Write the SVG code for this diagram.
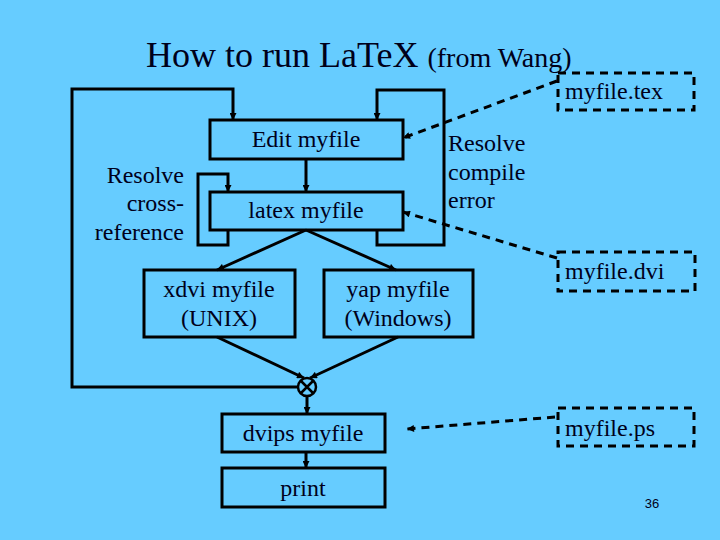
<svg xmlns="http://www.w3.org/2000/svg" width="720" height="540" viewBox="0 0 720 540">
<defs>
<marker id="ah" viewBox="0 0 10 10" refX="10" refY="5" markerWidth="8" markerHeight="7" markerUnits="userSpaceOnUse" orient="auto">
<path d="M0,0 L10,5 L0,10 z" fill="#000"/>
</marker>
</defs>
<style>
.box{fill:none;stroke:#000;stroke-width:3}
.dbox{fill:none;stroke:#000;stroke-width:3;stroke-dasharray:8,6}
.t{font-family:"Liberation Serif","Times New Roman",serif;font-size:24px;fill:#00001a}
.c{text-anchor:middle}
.r{text-anchor:end}
.ln{fill:none;stroke:#000;stroke-width:3}
.arr{fill:none;stroke:#000;stroke-width:3;marker-end:url(#ah)}
.darr{fill:none;stroke:#000;stroke-width:3;stroke-dasharray:8,6;marker-end:url(#ah)}
</style>
<rect width="720" height="540" fill="#66CCFF"/>
<g id="title">
<text x="146" y="67" class="t" style="font-size:36px">How to run LaTeX <tspan style="font-size:28px">(from Wang)</tspan></text>
</g>
<g id="edit"><rect x="210" y="120" width="193" height="39" class="box"/><text x="306" y="147" class="t c">Edit myfile</text></g>
<g id="latex"><rect x="210" y="192" width="193" height="38" class="box"/><text x="306" y="218" class="t c">latex myfile</text></g>
<g id="xdvi"><rect x="144" y="270" width="151" height="67" class="box"/><text x="219" y="297" class="t c">xdvi myfile</text><text x="219" y="326" class="t c">(UNIX)</text></g>
<g id="yap"><rect x="324" y="270" width="149" height="67" class="box"/><text x="398" y="297" class="t c">yap myfile</text><text x="398" y="326" class="t c">(Windows)</text></g>
<g id="join"><circle cx="307" cy="387" r="9" class="box" style="stroke-width:2.5"/><path d="M301,381 L313,393 M313,381 L301,393" class="ln" style="stroke-width:2.5"/></g>
<g id="dvips"><rect x="222" y="414" width="163" height="38" class="box"/><text x="303" y="441" class="t c">dvips myfile</text></g>
<g id="print"><rect x="222" y="468" width="163" height="39" class="box"/><text x="303" y="496" class="t c">print</text></g>
<g id="tex"><rect x="558" y="73" width="136" height="37" class="dbox"/><text x="565" y="99" class="t">myfile.tex</text></g>
<g id="dvi"><rect x="558" y="252" width="137" height="39" class="dbox"/><text x="565" y="279" class="t">myfile.dvi</text></g>
<g id="ps"><rect x="558" y="408" width="136" height="38" class="dbox"/><text x="565" y="436" class="t">myfile.ps</text></g>
<g id="label-crossref"><text class="t r" x="184" y="183">Resolve</text><text class="t r" x="184" y="211">cross-</text><text class="t r" x="184" y="240">reference</text></g>
<g id="label-compile"><text class="t" x="448" y="151">Resolve</text><text class="t" x="448" y="180">compile</text><text class="t" x="448" y="208">error</text></g>
<g id="connectors">
<path d="M306,159 L306,192" class="arr"/>
<path d="M306,230 L217,270" class="arr"/>
<path d="M306,230 L396,270" class="arr"/>
<path d="M217,337 L304,378" class="arr"/>
<path d="M398,337 L310,378" class="arr"/>
<path d="M307,396 L307,414" class="arr"/>
<path d="M306,452 L306,468" class="arr"/>
<path d="M298,387 L72,387 L72,89 L233,89 L233,120" class="arr"/>
<path d="M228,230 L228,245 L198,245 L198,174 L228,174 L228,192" class="arr"/>
<path d="M377,230 L377,245 L444,245 L444,90 L377,90 L377,120" class="arr"/>
<path d="M557,81 L403,138" class="darr"/>
<path d="M557,258 L403,212" class="darr"/>
<path d="M555,417 L407,429" class="darr"/>
</g>
<text x="652" y="508" style="font-family:'Liberation Sans',Arial,sans-serif;font-size:13px;fill:#00001a" text-anchor="middle">36</text>
</svg>
